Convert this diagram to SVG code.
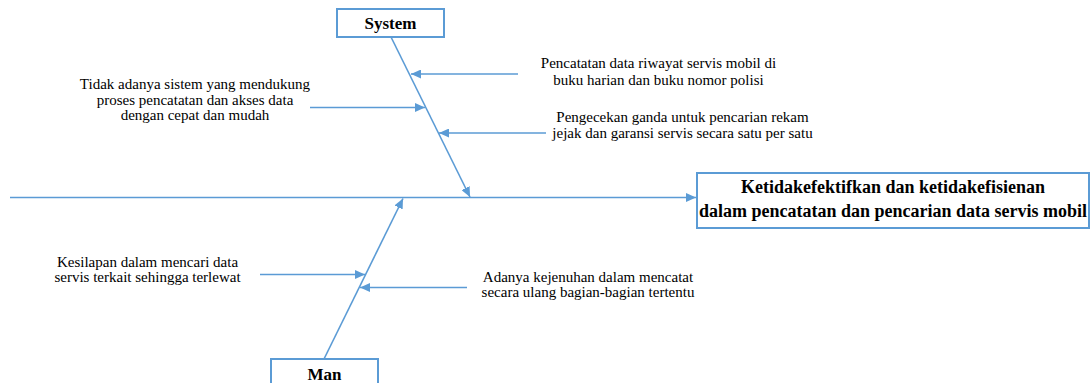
<svg xmlns="http://www.w3.org/2000/svg" width="1091" height="383" viewBox="0 0 1091 383">
  <style>
    .box { fill: #ffffff; stroke: #5B9BD5; stroke-width: 2; }
    .title { font-family: "Liberation Serif", "Times New Roman", serif; font-weight: bold; font-size: 17px; fill: #000; text-anchor: middle; }
    .effect { font-family: "Liberation Serif", "Times New Roman", serif; font-weight: bold; font-size: 18px; fill: #000; text-anchor: middle; }
    .cause { font-family: "Liberation Serif", "Times New Roman", serif; font-size: 15px; fill: #000; text-anchor: middle; }
    .line { stroke: #5B9BD5; stroke-width: 1.6; fill: none; marker-end: url(#arrow); }
  </style>
  <defs>
    <marker id="arrow" markerUnits="userSpaceOnUse" markerWidth="11" markerHeight="9" refX="10" refY="4.5" orient="auto">
      <path d="M0,0 L10,4.5 L0,9 z" fill="#5B9BD5"/>
    </marker>
  </defs>
  <rect width="1091" height="383" fill="#ffffff"/>

  <!-- connectors: spine, bones and cause arrows -->
  <g id="connectors">
    <line class="line" x1="10" y1="197.5" x2="696" y2="197.5"/>
    <line class="line" x1="391" y1="37" x2="470" y2="197"/>
    <line class="line" x1="324" y1="359" x2="403" y2="198.5"/>
    <line class="line" x1="518" y1="74" x2="411" y2="74"/>
    <line class="line" x1="310" y1="107.5" x2="425" y2="107.5"/>
    <line class="line" x1="546" y1="133" x2="439" y2="133"/>
    <line class="line" x1="260" y1="274.5" x2="365" y2="274.5"/>
    <line class="line" x1="467" y1="287.5" x2="360" y2="287.5"/>
  </g>

  <!-- category: System -->
  <g id="system">
    <rect class="box" x="337" y="9" width="107" height="28"/>
    <text class="title" x="390.5" y="29">System</text>
  </g>

  <!-- category: Man -->
  <g id="man">
    <rect class="box" x="271" y="359" width="107" height="32"/>
    <text class="title" x="324.5" y="380">Man</text>
  </g>

  <!-- effect (head) -->
  <g id="effect">
    <rect class="box" x="697" y="173" width="392" height="55"/>
    <text class="effect" x="893" y="192.5">Ketidakefektifkan dan ketidakefisienan</text>
    <text class="effect" x="893" y="216.5">dalam pencatatan dan pencarian data servis mobil</text>
  </g>

  <!-- causes -->
  <g id="cause-pencatatan">
    <text class="cause" x="658.5" y="68">Pencatatan data riwayat servis mobil di</text>
    <text class="cause" x="658.5" y="85">buku harian dan buku nomor polisi</text>
  </g>
  <g id="cause-tidak-adanya">
    <text class="cause" x="195" y="89">Tidak adanya sistem yang mendukung</text>
    <text class="cause" x="195" y="104.5">proses pencatatan dan akses data</text>
    <text class="cause" x="195" y="120">dengan cepat dan mudah</text>
  </g>
  <g id="cause-pengecekan">
    <text class="cause" x="682.5" y="122">Pengecekan ganda untuk pencarian rekam</text>
    <text class="cause" x="682.5" y="137.5">jejak dan garansi servis secara satu per satu</text>
  </g>
  <g id="cause-kesilapan">
    <text class="cause" x="147.5" y="267">Kesilapan dalam mencari data</text>
    <text class="cause" x="147.5" y="282">servis terkait sehingga terlewat</text>
  </g>
  <g id="cause-kejenuhan">
    <text class="cause" x="588" y="282">Adanya kejenuhan dalam mencatat</text>
    <text class="cause" x="588" y="297">secara ulang bagian-bagian tertentu</text>
  </g>
</svg>
